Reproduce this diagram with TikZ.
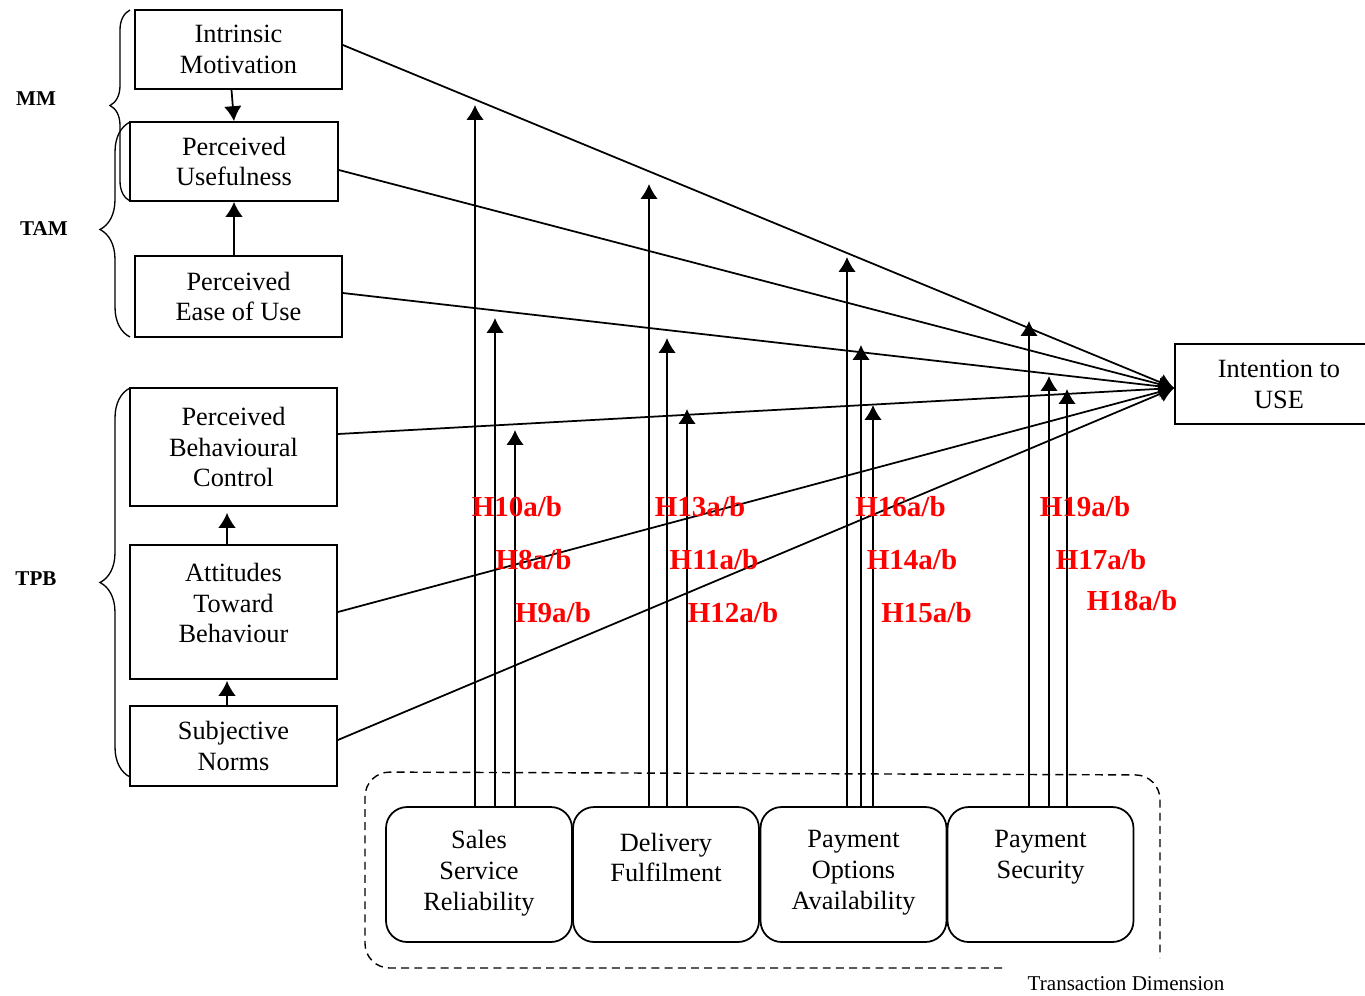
\documentclass[tikz,border=0pt]{standalone}
\usepackage{fontspec}
\setmainfont{Liberation Serif}
\usetikzlibrary{arrows.meta,calc,decorations.pathreplacing}
\definecolor{hred}{RGB}{255,0,0}
\begin{document}
\begin{tikzpicture}[x=0.02cm,y=-0.02cm,
  line width=1pt,
  box/.style={draw, rectangle, inner sep=0pt, align=center, font=\fontsize{15}{17.6}\selectfont},
  dimbox/.style={draw, rounded corners=12pt, inner sep=0pt, minimum width=3.72cm, minimum height=2.70cm},
  lbl/.style={align=center, font=\fontsize{15}{17.6}\selectfont, inner sep=0pt},
  hyp/.style={text=hred, font=\fontsize{16.5}{19}\selectfont\bfseries, inner sep=0pt},
  grp/.style={font=\fontsize{12}{14}\selectfont\bfseries, inner sep=0pt},
  arr/.style={-{Latex[length=8.5pt,width=10pt]}},
  brc/.style={decorate, decoration={brace, amplitude=#1}, line width=0.75pt},
]
\useasboundingbox (0,0) rectangle (1365,995);

% ---- theory constructs (left column) ----
\node[box, minimum width=4.14cm, minimum height=1.58cm] (im)   at (238.5,49.5)  {Intrinsic\\Motivation};
\node[box, minimum width=4.16cm, minimum height=1.58cm] (pu)   at (234,161.5)   {Perceived\\Usefulness};
\node[box, minimum width=4.14cm, minimum height=1.62cm] (peou) at (238.5,296.5) {Perceived\\Ease of Use};
\node[box, minimum width=4.14cm, minimum height=2.36cm] (pbc)  at (233.5,447)   {Perceived\\Behavioural\\Control};
\node[box, minimum width=4.14cm, minimum height=2.68cm] (atb)  at (233.5,612)   {};
\node[lbl] (atbtext) at (233.5,603) {Attitudes\\Toward\\Behaviour};
\node[box, minimum width=4.14cm, minimum height=1.60cm] (sn)   at (233.5,746)   {Subjective\\Norms};

% ---- dependent variable ----
\node[box, minimum width=4.16cm, minimum height=1.60cm] (iu) at (1279,384) {Intention to\\USE};
\coordinate (hub) at ($(iu.west)+(0,4)$);

% ---- transaction dimension ----
\node[dimbox] (ssr) at (479,874.5)    {};
\node[dimbox] (df)  at (666,874.5)    {};
\node[dimbox] (poa) at (853.5,874.5)  {};
\node[dimbox] (ps)  at (1040.5,874.5) {};
\node[lbl] (ssrtext) at (479,873)    {Sales\\Service\\Reliability};
\node[lbl] (dftext)  at (666,857.5)  {Delivery\\Fulfilment};
\node[lbl] (poatext) at (853.5,873)  {Payment\\Options\\Availability};
\node[lbl] (pstext)  at (1040.5,857.5) {Payment\\Security};

\draw[dashed, dash pattern=on 4.5pt off 3pt, line width=0.8pt, rounded corners=14pt]
  (1002,968) -- (365,968) -- (365,772) -- (1160,775) -- (1160,958);
\node[font=\fontsize{12}{14}\selectfont, inner sep=0pt] (tdim) at (1126,984) {Transaction Dimension};

% ---- group braces ----
\draw[brc=0.4cm] (130,201) -- (130,10);
\draw[brc=0.6cm] (130,337) -- (130,122);
\draw[brc=0.6cm] (130,777) -- (130,388);
\node[grp] (mm)  at (36,99)  {MM};
\node[grp] (tam) at (44,229) {TAM};
\node[grp] (tpb) at (36,579) {TPB};

% ---- links inside the models ----
\draw[arr] ($(im.south)+(-7,0)$) -- (pu.north);
\draw[arr] (peou.north -| pu.south) -- (pu.south);
\draw[arr] ($(atb.north)+(-6.5,0)$) -- ($(pbc.south)+(-6.5,6)$);
\draw[arr] ($(sn.north)+(-6.5,0)$) -- ($(atb.south)+(-6.5,1)$);

% ---- direct effects on intention ----
\draw[arr] ($(im.east)+(0,-4.5)$)   -- (hub);
\draw[arr] ($(pu.east)+(0,8.5)$)    -- (hub);
\draw[arr] ($(peou.east)+(0,-3.5)$) -- (hub);
\draw[arr] ($(pbc.east)+(0,-13)$)   -- (hub);
\draw[arr] (atb.east)               -- (hub);
\draw[arr] ($(sn.east)+(0,-6)$)     -- (hub);

% ---- moderating effects ----
\coordinate (m10) at (475,105);
\coordinate (m8)  at (495,318);
\coordinate (m9)  at (515,430);
\coordinate (m13) at (649,184);
\coordinate (m11) at (667,338);
\coordinate (m12) at (687,409);
\coordinate (m16) at (847,257);
\coordinate (m14) at (861,345);
\coordinate (m15) at (873,405);
\coordinate (m19) at (1029,321);
\coordinate (m17) at (1049,376);
\coordinate (m18) at (1067,389);

\foreach \m in {m10,m8,m9} \draw[arr] (ssr.north -| \m) -- (\m);
\foreach \m in {m13,m11,m12} \draw[arr] (df.north -| \m) -- (\m);
\foreach \m in {m16,m14,m15} \draw[arr] (poa.north -| \m) -- (\m);
\foreach \m in {m19,m17,m18} \draw[arr] (ps.north -| \m) -- (\m);

% ---- hypothesis labels ----
\node[hyp] (h10) at (517,507)    {H10a/b};
\node[hyp] (h8)  at (533.5,560)  {H8a/b};
\node[hyp] (h9)  at (553,613)    {H9a/b};
\node[hyp] (h13) at (700,507)    {H13a/b};
\node[hyp] (h11) at (714,560)    {H11a/b};
\node[hyp] (h12) at (733,613)    {H12a/b};
\node[hyp] (h16) at (900.5,507)  {H16a/b};
\node[hyp] (h14) at (912,560)    {H14a/b};
\node[hyp] (h15) at (926.5,613)  {H15a/b};
\node[hyp] (h19) at (1085,507)   {H19a/b};
\node[hyp] (h17) at (1101,560)   {H17a/b};
\node[hyp] (h18) at (1132,601)   {H18a/b};
\end{tikzpicture}
\end{document}
